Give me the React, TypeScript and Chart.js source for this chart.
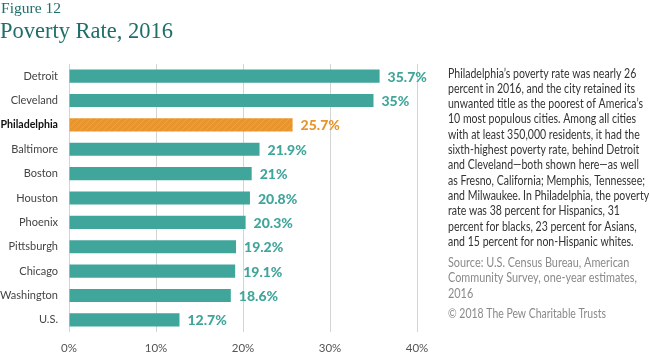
import React, { useEffect, useRef } from "react";
import { Chart, registerables } from "chart.js";

Chart.register(...registerables);

const categories = ["Detroit", "Cleveland", "Philadelphia", "Baltimore", "Boston", "Houston", "Phoenix", "Pittsburgh", "Chicago", "Washington", "U.S."];
const values = [35.7, 35, 25.7, 21.9, 21, 20.8, 20.3, 19.2, 19.1, 18.6, 12.7];
const valueLabels = ["35.7%", "35%", "25.7%", "21.9%", "21%", "20.8%", "20.3%", "19.2%", "19.1%", "18.6%", "12.7%"];
const xTicks = [0, 10, 20, 30, 40];
const highlight = "Philadelphia";

const figureLabel = "Figure 12";
const title = "Poverty Rate, 2016";

const bodyLines = [
  "Philadelphia\u2019s poverty rate was nearly 26",
  "percent in 2016, and the city retained its",
  "unwanted title as the poorest of America\u2019s",
  "10 most populous cities. Among all cities",
  "with at least 350,000 residents, it had the",
  "sixth-highest poverty rate, behind Detroit",
  "and Cleveland\u2014both shown here\u2014as well",
  "as Fresno, California; Memphis, Tennessee;",
  "and Milwaukee. In Philadelphia, the poverty",
  "rate was 38 percent for Hispanics, 31",
  "percent for blacks, 23 percent for Asians,",
  "and 15 percent for non-Hispanic whites.",
];
const sourceLines = [
  "Source: U.S. Census Bureau, American",
  "Community Survey, one-year estimates,",
  "2016",
];
const copyright = "\u00a9 2018 The Pew Charitable Trusts";

const TEAL = "#40a69b";
const ORANGE = "#e8952d";
const TITLE_COLOR = "#1f6e6a";
const FONT = "Lato, 'Open Sans', sans-serif";
const SERIF = "'Liberation Serif', serif";

function makePattern(): CanvasPattern | string {
  const c = document.createElement("canvas");
  c.width = 6;
  c.height = 6;
  const ctx = c.getContext("2d");
  if (!ctx) return ORANGE;
  ctx.fillStyle = ORANGE;
  ctx.fillRect(0, 0, 6, 6);
  ctx.strokeStyle = "#eda24a";
  ctx.lineWidth = 1;
  ctx.beginPath();
  ctx.moveTo(0, 6);
  ctx.lineTo(6, 0);
  ctx.moveTo(-3, 3);
  ctx.lineTo(3, -3);
  ctx.moveTo(3, 9);
  ctx.lineTo(9, 3);
  ctx.stroke();
  return ctx.createPattern(c, "repeat") || ORANGE;
}

// draw a block of lines, squeezed horizontally so the reference line has the target width
function drawBlock(
  ctx: CanvasRenderingContext2D,
  lines: string[],
  font: string,
  color: string,
  x: number,
  y0: number,
  lineH: number,
  refLine: string,
  targetW: number
) {
  ctx.save();
  ctx.font = font;
  ctx.fillStyle = color;
  ctx.textAlign = "left";
  ctx.textBaseline = "alphabetic";
  const w = ctx.measureText(refLine).width;
  const s = w > 0 ? targetW / w : 1;
  lines.forEach((l, i) => {
    ctx.save();
    ctx.translate(x, y0 + i * lineH);
    ctx.scale(s, 1);
    ctx.fillText(l, 0, 0);
    ctx.restore();
  });
  ctx.restore();
}

export default function App() {
  const ref = useRef<HTMLCanvasElement | null>(null);

  useEffect(() => {
    document.body.style.margin = "0";
    const canvas = ref.current;
    if (!canvas) return;
    const pattern = makePattern();
    const colors = categories.map((c) => (c === highlight ? pattern : TEAL));
    const labelColors = categories.map((c) => (c === highlight ? ORANGE : TEAL));

    const labelPlugin = {
      id: "valueLabels",
      afterDatasetsDraw(chart: any) {
        const ctx = chart.ctx;
        const meta = chart.getDatasetMeta(0);
        ctx.save();
        ctx.font = `900 14px ${FONT}`;
        ctx.textBaseline = "middle";
        ctx.textAlign = "left";
        meta.data.forEach((bar: any, i: number) => {
          ctx.fillStyle = labelColors[i];
          ctx.fillText(valueLabels[i], bar.x + 8, bar.y + 1);
        });
        ctx.restore();
      },
    };

    const textPlugin = {
      id: "textBlocks",
      afterDraw(chart: any) {
        const ctx = chart.ctx as CanvasRenderingContext2D;
        drawBlock(ctx, [figureLabel], `15px ${SERIF}`, TITLE_COLOR, 1, 13, 0, figureLabel, 60);
        drawBlock(ctx, [title], `24px ${SERIF}`, TITLE_COLOR, 0, 38, 0, title, 173);
        drawBlock(ctx, bodyLines, `12.5px ${FONT}`, "#333", 448, 77.5, 15.3, bodyLines[7], 197);
        drawBlock(ctx, sourceLines, `12.5px ${FONT}`, "#8a8a8a", 448, 266.5, 15.5, sourceLines[1], 189);
        drawBlock(ctx, [copyright], `12.5px ${FONT}`, "#8a8a8a", 448, 317.5, 0, copyright, 158);
      },
    };

    const chart = new Chart(canvas, {
      type: "bar",
      data: {
        labels: categories,
        datasets: [
          {
            data: values,
            backgroundColor: colors as any,
            borderWidth: 0,
            barPercentage: 0.54,
            categoryPercentage: 1,
          },
        ],
      },
      options: {
        indexAxis: "y",
        responsive: false,
        animation: false,
        layout: { padding: { top: 64, right: 233, left: 0, bottom: 0 } },
        plugins: {
          legend: { display: false },
          tooltip: { enabled: false },
          title: { display: false },
        },
        scales: {
          x: {
            min: 0,
            max: 40,
            afterBuildTicks(axis: any) {
              axis.ticks = xTicks.map((v) => ({ value: v }));
            },
            afterFit(axis: any) {
              axis.height = 21;
            },
            grid: { color: "#d4d4d4", lineWidth: 1, drawTicks: false },
            border: { display: false },
            ticks: {
              padding: 9,
              color: "#555",
              font: { family: FONT, size: 11.5 },
              callback: (v: any) => `${v}%`,
            },
          },
          y: {
            afterFit(axis: any) {
              axis.width = 69;
            },
            grid: { display: false, drawTicks: false },
            border: { display: false },
            ticks: {
              padding: 11,
              color: (ctx: any) => (categories[ctx.index] === highlight ? "#111" : "#444"),
              font: (ctx: any) => ({
                family: FONT,
                size: categories[ctx.index] === highlight ? 10.6 : 11,
                weight: categories[ctx.index] === highlight ? "bold" : "normal",
              }),
            },
          },
        },
      },
      plugins: [labelPlugin, textPlugin],
    });
    return () => chart.destroy();
  }, []);

  return (
    <div style={{ position: "relative", width: 650, height: 353, overflow: "hidden", background: "#fff" }}>
      <canvas ref={ref} width={650} height={353} style={{ display: "block" }} />
    </div>
  );
}
